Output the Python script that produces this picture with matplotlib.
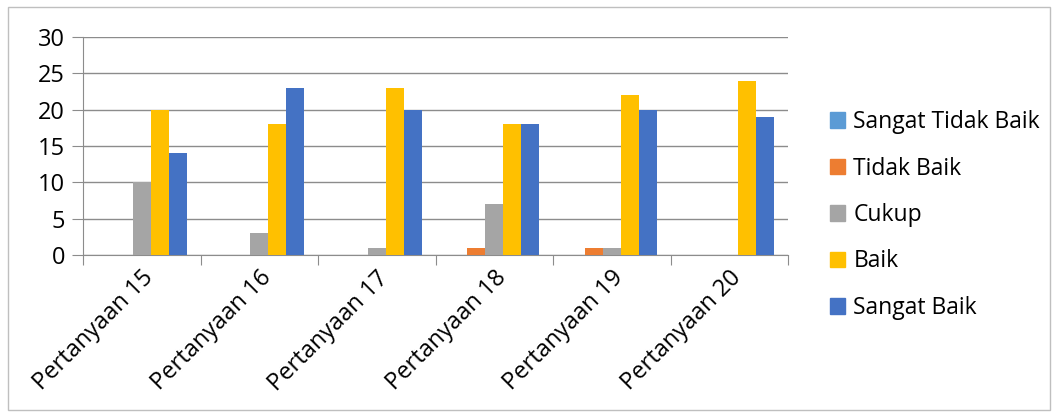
import matplotlib.pyplot as plt
import matplotlib.patches as mpatches
import numpy as np

plt.rcParams['font.family'] = ['Open Sans', 'DejaVu Sans']

categories = ["Pertanyaan 15", "Pertanyaan 16", "Pertanyaan 17",
              "Pertanyaan 18", "Pertanyaan 19", "Pertanyaan 20"]
series_names = ["Sangat Tidak Baik", "Tidak Baik", "Cukup", "Baik", "Sangat Baik"]
sangat_tidak_baik = [0, 0, 0, 0, 0, 0]
tidak_baik = [0, 0, 0, 1, 1, 0]
cukup = [10, 3, 1, 7, 1, 0]
baik = [20, 18, 23, 18, 22, 24]
sangat_baik = [14, 23, 20, 18, 20, 19]
values = [sangat_tidak_baik, tidak_baik, cukup, baik, sangat_baik]
colors = ["#5B9BD5", "#ED7D31", "#A5A5A5", "#FFC000", "#4472C4"]

fig = plt.figure(figsize=(10.58, 4.17), dpi=100)
ax = fig.add_axes([83 / 1058, 1 - 255 / 417, 705 / 1058, 218 / 417])

x = np.arange(len(categories))
w = 1 / 6.5
for i, (name, vals, c) in enumerate(zip(series_names, values, colors)):
    ax.bar(x + (i - 2) * w, vals, w, color=c, label=name, zorder=3)

grid = "#8C8C8C"
ax.set_xlim(-0.5, len(categories) - 0.5)
ax.set_ylim(0, 30)
ax.set_yticks(range(0, 31, 5))
ax.yaxis.grid(True, color=grid, linewidth=1, zorder=0)
ax.tick_params(axis='y', length=8, color=grid, labelsize=17, pad=5)
ax.set_xticks(np.arange(-0.5, len(categories), 1))
ax.set_xticklabels([])
ax.tick_params(axis='x', which='major', length=7, color=grid)
ax.set_xticks(x, minor=True)
ax.set_xticklabels(categories, minor=True, rotation=45, ha='right',
                   rotation_mode='anchor', fontsize=17)
ax.tick_params(axis='x', which='minor', length=0, pad=8)
for s in ['top', 'right']:
    ax.spines[s].set_visible(False)
for s in ['left', 'bottom']:
    ax.spines[s].set_color(grid)

handles = [mpatches.Patch(color=c, label=n) for n, c in zip(series_names, colors)]
fig.legend(handles=handles, loc='center left', bbox_to_anchor=(819 / 1058, 1 - 215 / 417),
           frameon=False, fontsize=16.5, handlelength=0.65, handleheight=0.65,
           handletextpad=0.35, labelspacing=0.98, borderpad=0)

fig.add_artist(mpatches.Rectangle((8 / 1058, 7 / 417), 1042 / 1058, 403 / 417,
                                  transform=fig.transFigure, fill=False,
                                  edgecolor="#BFBFBF", linewidth=1))

fig.savefig("out.png", dpi=100)
